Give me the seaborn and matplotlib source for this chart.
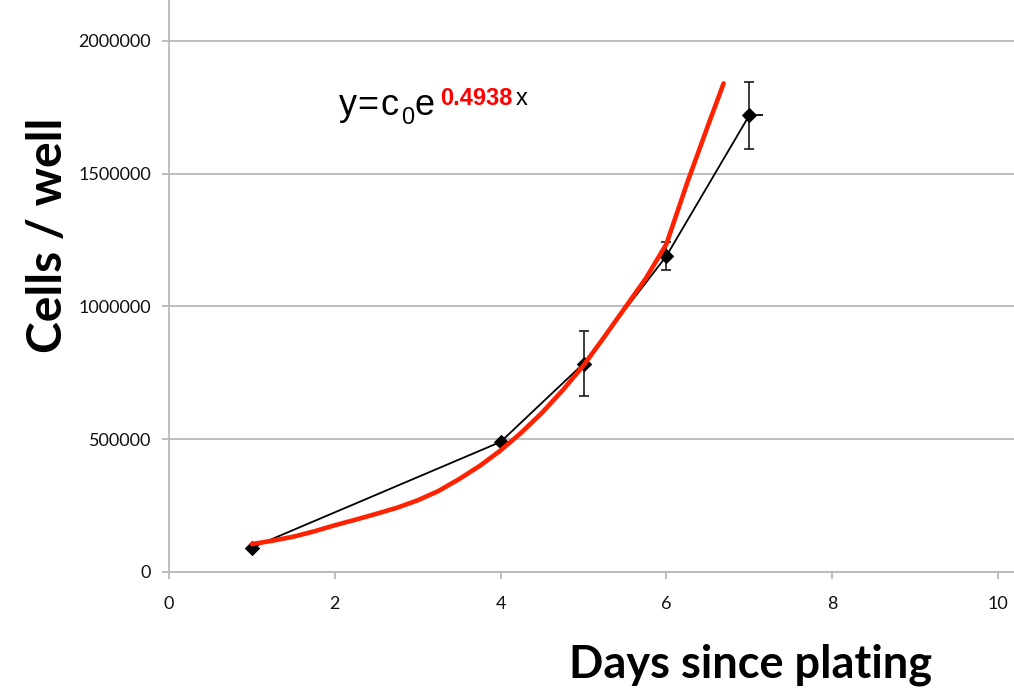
import matplotlib
matplotlib.use("Agg")
import matplotlib.pyplot as plt
import seaborn as sns
import pandas as pd

# ---- data ----
days = [1, 4, 5, 6, 7]
cells = [92000, 490000, 785000, 1190000, 1720000]
cells_err = [0, 0, 122000, 52000, 126000]
x_err_right = [0, 0, 0, 0, 0.17]

fit_days = [1.0, 1.25, 1.5, 1.75, 2.0, 2.25, 2.5, 2.75, 3.0, 3.25, 3.5, 3.75, 4.0,
            4.25, 4.5, 4.75, 5.0, 5.25, 5.5, 5.75, 6.0, 6.25, 6.5, 6.69]
fit_cells = [105000, 118000, 133000, 153000, 176000, 197000, 219000, 242000, 270000,
             305000, 350000, 400000, 458000, 525000, 600000, 685000, 778000, 885000,
             995000, 1105000, 1235000, 1465000, 1680000, 1840000]

x_ticks = [0, 2, 4, 6, 8, 10]
y_ticks = [0, 500000, 1000000, 1500000, 2000000]

xlabel = "Days since plating"
ylabel = "Cells / well"

sns.set_theme(style="white")
plt.rcParams['font.family'] = ['Lato', 'DejaVu Sans']

W, H = 1014, 691
fig = plt.figure(figsize=(W / 100, H / 100), dpi=100)
ax = fig.add_axes([169 / W, 1 - 572 / H, 1 - 169 / W, 572 / H])

grid_c = "#b9b9b9"

df_pts = pd.DataFrame({"day": days, "cells": cells})
df_fit = pd.DataFrame({"day": fit_days, "cells": fit_cells})

# measured data line
sns.lineplot(data=df_pts, x="day", y="cells", ax=ax, color="black", linewidth=1.3,
             marker="D", markersize=7, markeredgecolor="black", zorder=4)
# vertical error bars
yerr_idx = [i for i, e in enumerate(cells_err) if e > 0]
ax.errorbar([days[i] for i in yerr_idx], [cells[i] for i in yerr_idx],
            yerr=[cells_err[i] for i in yerr_idx], fmt="none", ecolor="#1a1a1a",
            elinewidth=1.2, capsize=3.8, capthick=1.2, zorder=3)
# one-sided horizontal error stub
xerr_idx = [i for i, e in enumerate(x_err_right) if e > 0]
ax.errorbar([days[i] for i in xerr_idx], [cells[i] for i in xerr_idx],
            xerr=[[0 for _ in xerr_idx], [x_err_right[i] for i in xerr_idx]],
            fmt="none", ecolor="#1a1a1a", elinewidth=1.4, capsize=0, zorder=3)

# fitted curve
sns.lineplot(data=df_fit, x="day", y="cells", ax=ax, color="#ff2200", linewidth=3.3,
             zorder=5, solid_capstyle="round", solid_joinstyle="round")

ax.set_xlim(0, 10 + 16 / 83)
ax.set_ylim(0, 2000000 + 41 / 133 * 500000)
ax.set_xticks(x_ticks)
ax.set_yticks(y_ticks)
ax.set_xticklabels([str(v) for v in x_ticks])
ax.set_yticklabels([str(v) for v in y_ticks])
ax.set_xlabel("")
ax.set_ylabel("")

ax.yaxis.grid(True, color=grid_c, linewidth=1.3)
ax.xaxis.grid(False)
ax.set_axisbelow(True)
for s in ["top", "right"]:
    ax.spines[s].set_visible(False)
for s in ["left", "bottom"]:
    ax.spines[s].set_color(grid_c)
    ax.spines[s].set_linewidth(1.3)

ax.tick_params(axis="both", which="major", direction="out", length=5, width=1.3,
               color=grid_c, labelsize=13, labelcolor="#111111")
ax.tick_params(axis="x", pad=12, bottom=True)
ax.tick_params(axis="y", pad=8, left=True)

# axis titles
fig.text(751 / W, 1 - 678 / H, xlabel, ha="center", va="baseline",
         fontsize=32.5, fontweight="bold", color="black")
fig.text(62 / W, 1 - 235 / H, ylabel, ha="center", va="baseline", rotation=90,
         rotation_mode="anchor", fontsize=34.5, fontweight="bold", color="black")

# equation
eq_font = ['Liberation Sans', 'DejaVu Sans']
def ftext(xp, yp, s, **kw):
    fig.text(xp / W, 1 - yp / H, s, ha="left", va="baseline", family=eq_font, **kw)

ftext(339, 115, "y", fontsize=26, color="black")
ftext(357, 115, "=", fontsize=26, color="black")
ftext(380, 115, "c", fontsize=26, color="black")
ftext(401, 124, "0", fontsize=17, color="black")
ftext(415, 115, "e", fontsize=26, color="black")
ftext(440, 105, "0.4938", fontsize=17, color="#ff0000", fontweight="bold")
ftext(516, 105, "x", fontsize=17, color="black")

fig.savefig("out.png", dpi=100)
